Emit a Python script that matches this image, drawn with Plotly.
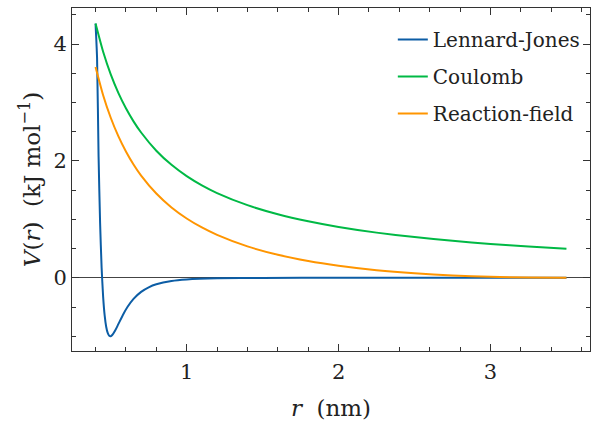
import plotly.graph_objects as go

# Lennard-Jones potential samples (r in nm, V in kJ/mol)
r_lj = [0.40, 0.41, 0.42, 0.43, 0.44, 0.45, 0.46, 0.47, 0.48, 0.49, 0.50,
        0.51, 0.53, 0.55, 0.58, 0.61, 0.65, 0.70, 0.75, 0.80, 0.90, 1.00,
        1.20, 1.50, 2.00, 2.50, 3.00, 3.50]
v_lj = [4.35, 3.763, 2.076, 0.936, 0.173, -0.327, -0.645, -0.838, -0.944,
        -0.992, -0.999, -0.980, -0.899, -0.794, -0.636, -0.501, -0.361,
        -0.241, -0.163, -0.112, -0.056, -0.030, -0.010, -0.003, -0.0005,
        -0.0001, -0.00004, -0.00002]

# Coulomb and reaction-field samples
r_el = [0.40, 0.45, 0.50, 0.55, 0.60, 0.65, 0.70, 0.80, 0.90, 1.00, 1.10,
        1.20, 1.40, 1.60, 1.80, 2.00, 2.25, 2.50, 2.75, 3.00, 3.25, 3.50]
v_coul = [4.350, 3.867, 3.480, 3.164, 2.900, 2.677, 2.486, 2.175, 1.933,
          1.740, 1.582, 1.450, 1.243, 1.088, 0.967, 0.870, 0.773, 0.696,
          0.633, 0.580, 0.535, 0.497]
v_rf = [3.608, 3.125, 2.739, 2.424, 2.162, 1.940, 1.750, 1.442, 1.204,
        1.015, 0.861, 0.734, 0.537, 0.394, 0.287, 0.206, 0.130, 0.077,
        0.041, 0.017, 0.004, 0.000]

names = ["Lennard-Jones", "Coulomb", "Reaction-field"]
colors = ["#0C5DA5", "#00B945", "#FF9500"]

FONT = "DejaVu Serif"
TXT = "#222222"

fig = go.Figure()
for x, y, n, c in [(r_lj, v_lj, names[0], colors[0]),
                   (r_el, v_coul, names[1], colors[1]),
                   (r_el, v_rf, names[2], colors[2])]:
    fig.add_trace(go.Scatter(x=x, y=y, mode="lines", name=n, legendgroup=n,
                             line=dict(color=c, width=2, shape="spline", smoothing=0.6)))

axis_common = dict(
    showline=True, linecolor="#333333", linewidth=1, mirror="allticks",
    ticks="inside", ticklen=7, tickwidth=1, tickcolor="#333333",
    showgrid=False, tickfont=dict(family=FONT, size=21, color=TXT),
)

fig.update_xaxes(
    range=[0.245, 3.655], tick0=0, dtick=1, zeroline=False,
    ticklabelstandoff=2,
    minor=dict(ticks="inside", ticklen=4, tickwidth=1, tickcolor="#333333", dtick=0.2, tick0=0, showgrid=False),
    title=dict(text="<i>r</i>  (nm)", font=dict(family=FONT, size=23, color=TXT), standoff=17),
    **axis_common,
)
fig.update_yaxes(
    range=[-1.253, 4.617], tick0=0, dtick=2,
    zeroline=True, zerolinecolor="#444444", zerolinewidth=1,
    minor=dict(ticks="inside", ticklen=4, tickwidth=1, tickcolor="#333333", dtick=0.5, tick0=0, showgrid=False),
    title=dict(text="<i>V</i>(<i>r</i>)  (kJ mol<sup>−1</sup>)", font=dict(family=FONT, size=23, color=TXT), standoff=6),
    **axis_common,
)

fig.update_layout(
    width=591, height=421,
    margin=dict(l=72, r=1, t=8, b=70),
    paper_bgcolor="white", plot_bgcolor="white",
    font=dict(family=FONT, size=22, color=TXT),
    legend=dict(x=0.99, y=0.965, xanchor="right", yanchor="top",
                bgcolor="rgba(0,0,0,0)", borderwidth=0,
                font=dict(family=FONT, size=20, color=TXT),
                tracegroupgap=8),
    showlegend=True,
)

fig.write_html("out.html")
